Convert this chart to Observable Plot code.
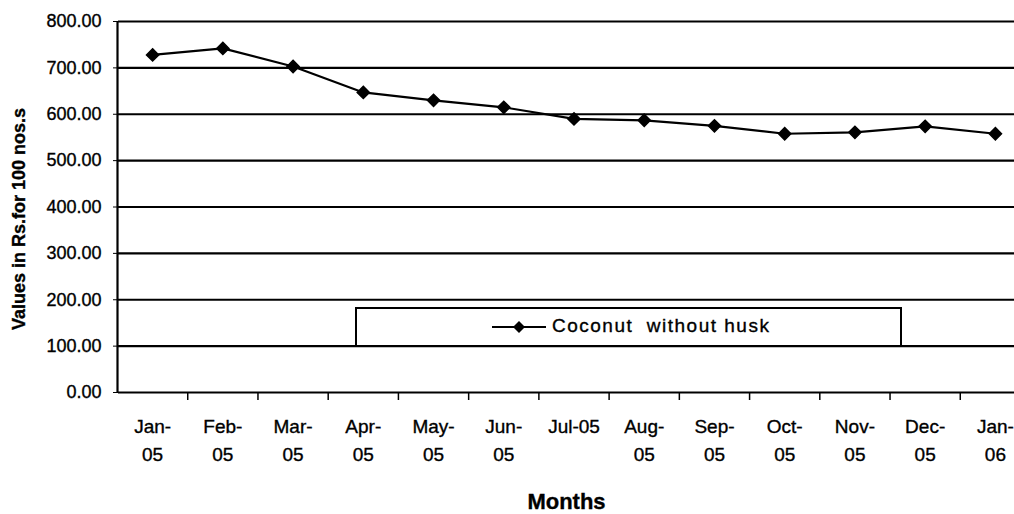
<!DOCTYPE html>
<html>
<head>
<meta charset="utf-8">
<script src="https://cdn.jsdelivr.net/npm/d3@7"></script>
<script src="https://cdn.jsdelivr.net/npm/@observablehq/plot@0.6"></script>
<style>
  html, body { margin: 0; padding: 0; background: #fff; overflow: hidden; }
  #chart { position: relative; width: 1014px; height: 514px; font-family: "Liberation Sans", Arial, sans-serif; }
  #chart svg text { stroke: #000; stroke-width: 0.35px; }
  #legend { position: absolute; left: 355px; top: 307px; width: 543px; height: 36px; border: 2px solid #000; background: #fff; }
  #legend svg { position: absolute; left: 135px; top: 8px; }
  #legend span { position: absolute; left: 195px; top: 6px; font-size: 19px; letter-spacing: 1.5px; white-space: pre; color: #000; -webkit-text-stroke: 0.35px #000; }
</style>
</head>
<body>
<div id="chart"></div>
<script>
const months = ["Jan-\n05","Feb-\n05","Mar-\n05","Apr-\n05","May-\n05","Jun-\n05","Jul-05","Aug-\n05","Sep-\n05","Oct-\n05","Nov-\n05","Dec-\n05","Jan-\n06"];
const values = [728, 742, 703, 647, 630, 615, 590, 587, 575, 558, 561, 574, 558];
const yTicks = [0, 100, 200, 300, 400, 500, 600, 700, 800];
const seriesName = "Coconut  without husk";
const yTitle = "Values in Rs.for 100 nos.s";
const xTitle = "Months";

const data = months.map((m, i) => ({i, month: m, value: values[i]}));
const idx = months.map((_, i) => i);
const bounds = months.slice(0, -1).map((_, i) => i + 0.5);

const chart = Plot.plot({
  width: 1014,
  height: 514,
  marginLeft: 118,
  marginRight: 0,
  marginTop: 21,
  marginBottom: 122,
  style: {fontFamily: "Liberation Sans, Arial, sans-serif", background: "#fff", color: "#000", overflow: "visible"},
  x: {domain: [-0.5, months.length - 0.5], range: [117, 1030]},
  y: {domain: [0, 800]},
  marks: [
    Plot.gridY(yTicks, {stroke: "#000", strokeOpacity: 1, strokeWidth: 2.2}),
    Plot.ruleX([-0.5], {stroke: "#000", strokeWidth: 2.2}),
    Plot.axisY({ticks: yTicks, tickSize: 5, tickPadding: 12, tickFormat: d => d.toFixed(2), fontSize: 18, label: null, style: {letterSpacing: "1.5px"}}),
    Plot.axisX({ticks: bounds, tickSize: 8, strokeWidth: 1.5, tickFormat: () => "", label: null}),
    Plot.axisX({ticks: idx, tickSize: 0, tickPadding: 21, tickFormat: i => months[i], fontSize: 19, lineHeight: 1.45, label: null, style: {letterSpacing: "1.4px"}}),
    Plot.line(data, {x: "i", y: "value", stroke: "#000", strokeWidth: 2.2}),
    Plot.dot(data, {x: "i", y: "value", symbol: "diamond2", r: 5.5, fill: "#000", stroke: "#000"}),
    Plot.text([yTitle], {frameAnchor: "left", dx: -99, dy: 12, rotate: -90, text: d => d, fontSize: 18, fontWeight: "bold", textAnchor: "middle", style: {letterSpacing: "1px"}}),
    Plot.text([xTitle], {frameAnchor: "bottom", dy: 116, lineAnchor: "bottom", text: d => d, fontSize: 22, fontWeight: "bold", style: {letterSpacing: "1.8px"}})
  ]
});
const root = document.getElementById("chart");
root.appendChild(chart);

const legend = document.createElement("div");
legend.id = "legend";
legend.innerHTML = `<svg width="56" height="20"><line x1="0" y1="10" x2="54" y2="10" stroke="#000" stroke-width="2"/><path d="M27,4 L33,10 L27,16 L21,10 Z" fill="#000"/></svg><span></span>`;
legend.querySelector("span").textContent = seriesName;
root.appendChild(legend);
</script>
</body>
</html>
